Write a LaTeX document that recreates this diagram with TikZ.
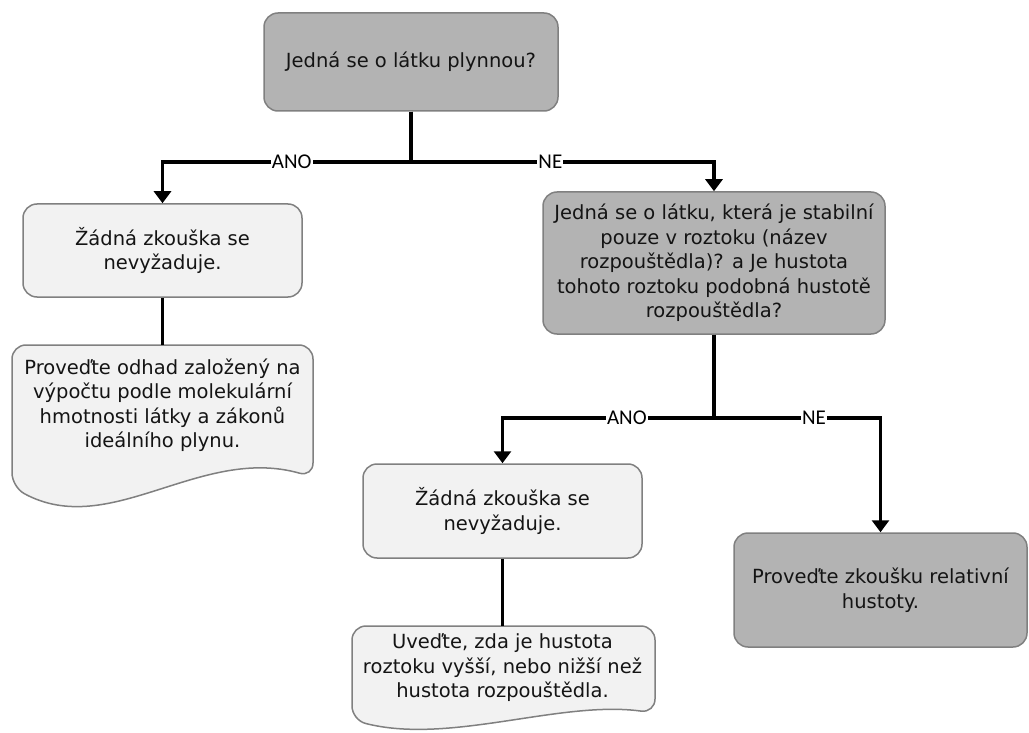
\documentclass[tikz,border=0pt]{standalone}
\usepackage{fontspec}
\setmainfont{DejaVu Sans}
\newfontfamily\labelfont{Carlito}
\usetikzlibrary{arrows.meta}
\definecolor{boxdark}{HTML}{B3B3B3}
\definecolor{boxlight}{HTML}{F2F2F2}
\definecolor{boxline}{HTML}{808080}
\definecolor{inkc}{HTML}{141414}
\begin{document}
\begin{tikzpicture}[x=1pt,y=-1pt,
  bodyfont/.style={font=\fontsize{19.5}{24.5}\selectfont},
  basebox/.style={draw=boxline, line width=1.5pt, rounded corners=14pt,
    align=center, bodyfont, text=inkc, inner sep=0pt},
  darkbox/.style={basebox, fill=boxdark},
  lightbox/.style={basebox, fill=boxlight},
  doctext/.style={align=center, bodyfont, text=inkc, inner sep=0pt},
  docshape/.style={draw=boxline, fill=boxlight, line width=1.5pt, rounded corners=14pt},
  conn/.style={line width=3.8pt, -{Triangle[width=17pt,length=12pt]}},
  wire/.style={line width=3.8pt},
  yesno/.style={font=\labelfont\fontsize{21}{21}\selectfont, fill=white, inner sep=1pt}
]
\useasboundingbox (0,0) rectangle (1029,733);

% decision and result boxes
\node[darkbox, minimum width=294pt, minimum height=98pt] (top) at (411,62)
  {Jedná se o látku plynnou?};
\node[lightbox, minimum width=279pt, minimum height=93pt] (left1) at (162.5,250.5)
  {Žádná zkouška se\\nevyžaduje.};
\node[darkbox, minimum width=342pt, minimum height=142pt] (dec) at (714,263)
  {Jedná se o látku, která je stabilní\\pouze v roztoku (název\\rozpouštědla)? a Je hustota\\tohoto roztoku podobná hustotě\\rozpouštědla?};
\node[lightbox, minimum width=279pt, minimum height=94pt] (left2) at (502.5,511)
  {Žádná zkouška se\\nevyžaduje.};
\node[darkbox, minimum width=293pt, minimum height=114pt] (right3) at (880.5,590)
  {Proveďte zkoušku relativní\\hustoty.};

% document shapes with a wavy lower edge
\draw[docshape] (313,477) .. controls (200,445) and (110,540) .. (12,487)
  -- (12,345) -- (313,345) -- cycle;
\node[doctext, minimum width=301pt, minimum height=120pt] (d1) at (162.5,405)
  {Proveďte odhad založený na\\výpočtu podle molekulární\\hmotnosti látky a zákonů\\ideálního plynu.};

\draw[docshape] (655,713) .. controls (560,700) and (450,745) .. (352,720)
  -- (352,626) -- (655,626) -- cycle;
\node[doctext, minimum width=301pt, minimum height=84pt] (d2) at (502.5,668)
  {Uveďte, zda je hustota\\roztoku vyšší, nebo nižší než\\hustota rozpouštědla.};

% connectors
\coordinate (s1) at (top.south |- 0,162);
\draw[conn] (top.south) -- (s1) -| node[yesno, pos=0.24] {ANO} (left1.north);
\draw[conn] (top.south) -- (s1) -| node[yesno, pos=0.23] {NE} (dec.north);
\draw[wire] (left1.south) -- (d1.north);

\coordinate (s2) at (dec.south |- 0,418);
\draw[conn] (dec.south) -- (s2) -| node[yesno, pos=0.206] {ANO} (left2.north);
\draw[conn] (dec.south) -- (s2) -| node[yesno, pos=0.30] {NE} (right3.north);
\draw[wire] (left2.south) -- (d2.north);
\end{tikzpicture}
\end{document}
